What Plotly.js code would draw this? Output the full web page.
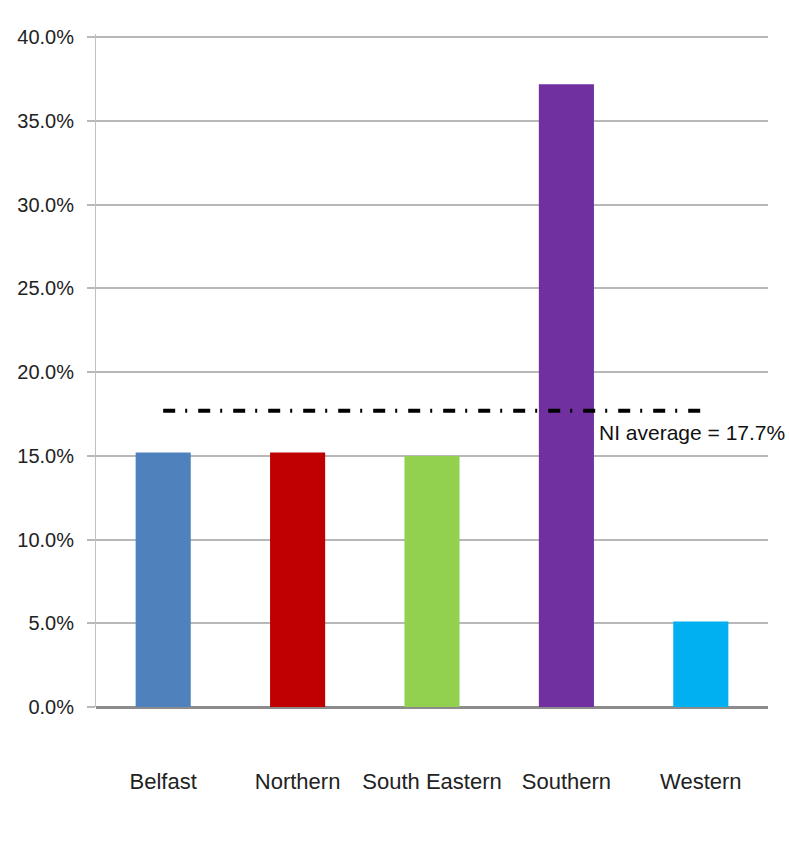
<!DOCTYPE html>
<html>
<head>
<meta charset="utf-8">
<script src="https://cdn.plot.ly/plotly-3.0.1.min.js"></script>
<style>
html,body{margin:0;padding:0;background:#fff;}
#chart{width:789px;height:851px;}
</style>
</head>
<body>
<div id="chart"></div>
<script>
const categories = ['Belfast', 'Northern', 'South Eastern', 'Southern', 'Western'];
const values = [15.2, 15.2, 15.0, 37.2, 5.1];
const barColors = ['#4F81BD', '#C00000', '#92D050', '#7030A0', '#00B0F0'];
const niAverage = 17.7;
const avgLineX = ['Belfast', 'Western'];
const yTickVals = [0, 5, 10, 15, 20, 25, 30, 35, 40];
const yTickText = ['0.0%', '5.0%', '10.0%', '15.0%', '20.0%', '25.0%', '30.0%', '35.0%', '40.0%'];
const avgLabel = 'NI average = 17.7%';

const font = '"Liberation Sans", Arial, sans-serif';

const traces = [
  {
    type: 'bar',
    x: categories,
    y: values,
    marker: {color: barColors},
    width: 0.41,
    hoverinfo: 'x+y'
  },
  {
    type: 'scatter',
    mode: 'lines',
    x: avgLineX,
    y: [niAverage, niAverage],
    line: {color: '#000000', width: 4, dash: '12px,10px,2px,11px'},
    hoverinfo: 'skip'
  }
];

const layout = {
  width: 789,
  height: 851,
  margin: {l: 96, r: 21, t: 34, b: 144},
  paper_bgcolor: '#ffffff',
  plot_bgcolor: '#ffffff',
  showlegend: false,
  font: {family: font, size: 22, color: '#222222'},
  xaxis: {
    type: 'category',
    showgrid: false,
    showline: false,
    zeroline: false,
    ticks: '',
    ticklabelstandoff: 59,
    tickfont: {family: font, size: 22, color: '#222222'}
  },
  yaxis: {
    range: [0, 40.2],
    tickvals: yTickVals,
    ticktext: yTickText,
    showgrid: true,
    gridcolor: '#b8b8b8',
    gridwidth: 2,
    showline: true,
    linecolor: '#c0c0c0',
    linewidth: 1,
    zeroline: true,
    zerolinecolor: '#8c8c8c',
    zerolinewidth: 3,
    ticks: 'outside',
    ticklen: 8,
    tickcolor: '#b8b8b8',
    tickwidth: 2,
    ticklabelstandoff: 9,
    tickfont: {family: font, size: 20, color: '#222222'}
  },
  annotations: [
    {
      xref: 'paper', yref: 'y',
      x: 0.745, y: 16.4,
      xanchor: 'left', yanchor: 'middle',
      text: avgLabel,
      showarrow: false,
      font: {family: font, size: 21, color: '#111111'}
    }
  ]
};

Plotly.newPlot('chart', traces, layout, {displayModeBar: false, staticPlot: true});
</script>
</body>
</html>
